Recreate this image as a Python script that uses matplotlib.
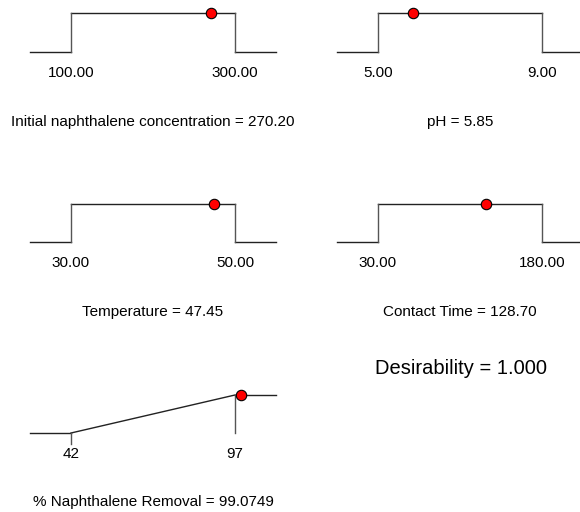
import matplotlib
matplotlib.use("Agg")
import matplotlib.pyplot as plt

plt.rcParams['font.family'] = ['Liberation Sans', 'DejaVu Sans']

# factors (ramp panels)
factor_names = ['Initial naphthalene concentration', 'pH', 'Temperature', 'Contact Time']
factor_low = [100.0, 5.0, 30.0, 30.0]
factor_high = [300.0, 9.0, 50.0, 180.0]
factor_value = [270.20, 5.85, 47.45, 128.70]

# response
response_name = '% Naphthalene Removal'
response_low = 42
response_high = 97
response_value = 99.0749

desirability = 1.000

W, H = 580, 512
fig = plt.figure(figsize=(W / 100, H / 100), dpi=100)


def px_axes(x0, x1, ytop, ybot):
    return fig.add_axes([x0 / W, 1 - ybot / H, (x1 - x0) / W, (ybot - ytop) / H])


def style(ax):
    for s in ax.spines.values():
        s.set_visible(False)
    ax.set_yticks([])
    ax.tick_params(axis='x', length=0, pad=10, labelsize=11)
    ax.set_ylim(0, 1)


# panel placement (pixels): columns and rows
cols = [(30, 276), (337, 583)]
rows = [(13.3, 51.7), (203.5, 242)]

for i in range(4):
    x0, x1 = cols[i % 2]
    yt, yb = rows[i // 2]
    ax = px_axes(x0, x1, yt, yb)
    lo, hi = factor_low[i], factor_high[i]
    m = 0.25 * (hi - lo)
    xmin, xmax = lo - m, hi + m
    ax.set_xlim(xmin, xmax)
    ax.plot([xmin, lo], [0, 0], color='#222222', lw=1, clip_on=False)
    ax.plot([lo, hi], [1, 1], color='#222222', lw=1, clip_on=False)
    ax.plot([hi, xmax], [0, 0], color='#222222', lw=1, clip_on=False)
    ax.plot([lo, lo], [0, 1], color='#555555', lw=1, clip_on=False)
    ax.plot([hi, hi], [0, 1], color='#555555', lw=1, clip_on=False)
    ax.plot([factor_value[i]], [1], 'o', color='red', mec='black', mew=0.8,
            ms=7.5, clip_on=False, zorder=5)
    style(ax)
    ax.set_xticks([lo, hi])
    ax.set_xticklabels([f'{lo:.2f}', f'{hi:.2f}'])
    ax.text(0.5, -70 / (yb - yt), f'{factor_names[i]} = {factor_value[i]:.2f}',
            transform=ax.transAxes, ha='center', va='center', fontsize=11)

# response panel
ax = px_axes(30, 276, 395, 433)
lo, hi = response_low, response_high
m = 0.25 * (hi - lo)
xmin, xmax = lo - m, hi + m
ax.set_xlim(xmin, xmax)
ax.plot([xmin, lo], [0, 0], color='#222222', lw=1, clip_on=False)
ax.plot([lo, hi], [0, 1], color='#222222', lw=1, clip_on=False)
ax.plot([hi, xmax], [1, 1], color='#222222', lw=1, clip_on=False)
ax.plot([hi, hi], [0, 1], color='#555555', lw=1, clip_on=False)
ax.plot([lo, lo], [0, -0.3], color='#555555', lw=1, clip_on=False)
ax.plot([response_value], [1], 'o', color='red', mec='black', mew=0.8,
        ms=7.5, clip_on=False, zorder=5)
style(ax)
ax.set_xticks([lo, hi])
ax.set_xticklabels([str(lo), str(hi)])
ax.text(0.5, -69 / 38, f'{response_name} = {response_value:.4f}',
        transform=ax.transAxes, ha='center', va='center', fontsize=11)

fig.text(375 / W, 1 - 369 / H, f'Desirability = {desirability:.3f}',
         ha='left', va='center', fontsize=14.5)

fig.savefig('out.png', dpi=100)
